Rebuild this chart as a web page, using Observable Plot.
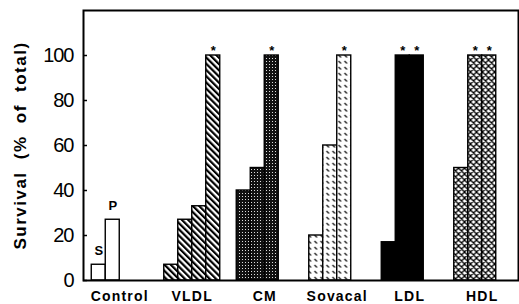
<!DOCTYPE html>
<html>
<head>
<meta charset="utf-8">
<script src="https://cdn.jsdelivr.net/npm/d3@7"></script>
<script src="https://cdn.jsdelivr.net/npm/@observablehq/plot@0.6"></script>
<style>
  html, body { margin: 0; padding: 0; background: #fff; }
  g[aria-label="y-axis label"] text { font-size: 17px; font-weight: bold; letter-spacing: 1.5px; word-spacing: 6px; }
  g[aria-label="y-axis tick label"] text { font-size: 20px; letter-spacing: -1px; }
  g[aria-label="fx-axis tick label"] text { font-size: 14px; font-weight: bold; letter-spacing: 1.2px; }
</style>
</head>
<body>
<div id="chart"></div>
<script>
// ---- data ----
const groups = ["Control", "VLDL", "CM", "Sovacal", "LDL", "HDL"];
const controlValues = [7, 27];
const vldlValues = [7, 27, 33, 100];
const cmValues = [40, 50, 100];
const sovacalValues = [20, 60, 100];
const ldlValues = [17, 100, 100];
const hdlValues = [50, 100, 100];
const controlStars = [0, 0];
const vldlStars = [0, 0, 0, 1];
const cmStars = [0, 0, 1];
const sovacalStars = [0, 0, 1];
const ldlStars = [0, 1, 1];
const hdlStars = [0, 1, 1];
const controlLabels = ["S", "P"];
const yTicks = [0, 20, 40, 60, 80, 100];

const valuesByGroup = [controlValues, vldlValues, cmValues, sovacalValues, ldlValues, hdlValues];
const starsByGroup = [controlStars, vldlStars, cmStars, sovacalStars, ldlStars, hdlStars];
const patternByGroup = { Control: "white", VLDL: "url(#pVLDL)", CM: "url(#pCM)", Sovacal: "url(#pSov)", LDL: "black", HDL: "url(#pHDL)" };

const rows = [];
groups.forEach((g, gi) => {
  valuesByGroup[gi].forEach((v, i) => {
    rows.push({ group: g, i, value: v, star: starsByGroup[gi][i], label: gi === 0 ? controlLabels[i] : null });
  });
});

const svg = Plot.plot({
  width: 519,
  height: 304,
  marginLeft: 83,
  marginRight: 1,
  marginTop: 10,
  marginBottom: 24,
  style: { fontFamily: "'Liberation Sans', Arial, Helvetica, sans-serif", color: "black", background: "white" },
  fx: { domain: groups, padding: 0, round: false, axis: null },
  x: { domain: [0, 1, 2, 3], paddingInner: 0, paddingOuter: 0.59, round: false, axis: null },
  y: { domain: [0, 120], axis: null },
  color: { type: "identity" },
  marks: [
    Plot.barY(rows, { fx: "group", x: "i", y: "value", fill: d => patternByGroup[d.group], stroke: "black", strokeWidth: 1.4 }),
    Plot.text(rows.filter(d => d.star), { fx: "group", x: "i", y: "value", text: () => "*", lineAnchor: "bottom", dy: -1, fontSize: 13, fontWeight: "bold" }),
    Plot.text(rows.filter(d => d.label), { fx: "group", x: "i", y: "value", text: "label", lineAnchor: "bottom", dy: -10, fontSize: 13, fontWeight: "bold" }),
    Plot.frame({ facet: "super", stroke: "black", strokeWidth: 2 }),
    Plot.axisY({ ticks: yTicks, tickSize: 0, tickPadding: 10, label: "Survival (% of total)", labelAnchor: "center", labelOffset: 70, labelArrow: "none" }),
    Plot.axisY({ ticks: yTicks, text: null, label: null, tickSize: 4, dx: 4, strokeWidth: 1.5 }),
    Plot.axisFx({ anchor: "bottom", tickSize: 0, tickPadding: 11, label: null })
  ]
});

const defs = d3.select(svg).insert("defs", ":first-child");
// VLDL: diagonal "\" stripes
const p1 = defs.append("pattern").attr("id", "pVLDL").attr("patternUnits", "userSpaceOnUse")
  .attr("width", 4.4).attr("height", 4.4).attr("patternTransform", "rotate(-45)");
p1.append("rect").attr("width", 4.4).attr("height", 4.4).attr("fill", "white");
p1.append("rect").attr("width", 2.2).attr("height", 4.4).attr("fill", "black");
// CM: dark stipple
const p2 = defs.append("pattern").attr("id", "pCM").attr("patternUnits", "userSpaceOnUse").attr("width", 3).attr("height", 3);
p2.append("rect").attr("width", 3).attr("height", 3).attr("fill", "#111");
p2.append("rect").attr("x", 1).attr("y", 1).attr("width", 1).attr("height", 1).attr("fill", "#ddd");
// Sovacal: small dashes
const p3 = defs.append("pattern").attr("id", "pSov").attr("patternUnits", "userSpaceOnUse").attr("width", 6).attr("height", 6);
p3.append("rect").attr("width", 6).attr("height", 6).attr("fill", "white");
p3.append("path").attr("d", "M1,1L3.5,3.5").attr("stroke", "black").attr("stroke-width", 1.1);
// HDL: crosshatch
const p4 = defs.append("pattern").attr("id", "pHDL").attr("patternUnits", "userSpaceOnUse").attr("width", 6).attr("height", 6);
p4.append("rect").attr("width", 6).attr("height", 6).attr("fill", "white");
p4.append("path").attr("d", "M0,0L6,6M6,0L0,6M-1,5L1,7M5,-1L7,1M-1,1L1,-1M5,7L7,5").attr("stroke", "black").attr("stroke-width", 1.3);

document.getElementById("chart").appendChild(svg);
</script>
</body>
</html>
